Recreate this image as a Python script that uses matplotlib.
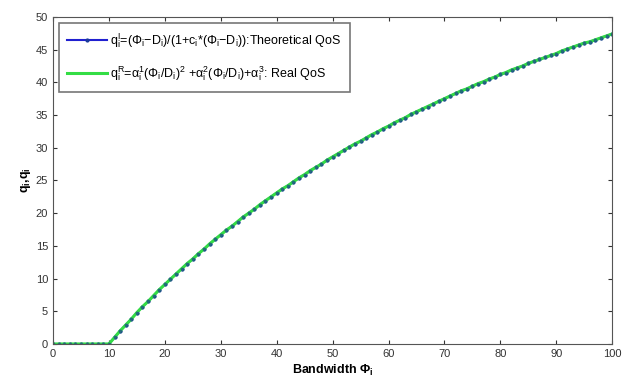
import matplotlib
matplotlib.use("Agg")
import matplotlib.pyplot as plt
import numpy as np

bandwidth = list(range(0, 101))
theoretical_qos = [0.0]*11 + [
    1.0, 2.0, 2.9, 3.8, 4.8, 5.7, 6.5, 7.4, 8.3, 9.1,
    9.9, 10.7, 11.5, 12.3, 13.0, 13.8, 14.5, 15.3, 16.0, 16.7,
    17.4, 18.0, 18.7, 19.4, 20.0, 20.6, 21.3, 21.9, 22.5, 23.1,
    23.7, 24.2, 24.8, 25.4, 25.9, 26.5, 27.0, 27.5, 28.1, 28.6,
    29.1, 29.6, 30.1, 30.6, 31.0, 31.5, 32.0, 32.4, 32.9, 33.3,
    33.8, 34.2, 34.6, 35.1, 35.5, 35.9, 36.3, 36.7, 37.1, 37.5,
    37.9, 38.3, 38.7, 39.0, 39.4, 39.8, 40.1, 40.5, 40.8, 41.2,
    41.5, 41.9, 42.2, 42.5, 42.9, 43.2, 43.5, 43.8, 44.1, 44.4,
    44.8, 45.1, 45.4, 45.7, 46.0, 46.2, 46.5, 46.8, 47.1, 47.4]
real_qos = list(theoretical_qos)

x_ticks = list(range(0, 101, 10))
y_ticks = list(range(0, 51, 5))

plt.rcParams['font.family'] = ['Liberation Sans', 'DejaVu Sans']
plt.rcParams['mathtext.fontset'] = 'custom'
plt.rcParams['mathtext.rm'] = 'Liberation Sans'
plt.rcParams['mathtext.it'] = 'Liberation Sans'
plt.rcParams['mathtext.bf'] = 'Liberation Sans:bold'

fig = plt.figure(figsize=(6.22, 3.79), dpi=100)
ax = fig.add_axes([0.0852, 0.0924, 0.899, 0.863])

lab1 = (r'$\mathregular{q_i^I}$=($\mathregular{\Phi_i}$$-$$\mathregular{D_i}$)/(1+'
        r'$\mathregular{c_i}$*($\mathregular{\Phi_i}$$-$$\mathregular{D_i}$)):Theoretical QoS')
lab2 = (r'$\mathregular{q_i^R}$=$\mathregular{\alpha_i^1}$($\mathregular{\Phi_i}$/$\mathregular{D_i}$)'
        r'$\mathregular{^2}$ +$\mathregular{\alpha_i^2}$($\mathregular{\Phi_i}$/$\mathregular{D_i}$)+'
        r'$\mathregular{\alpha_i^3}$: Real QoS')

ax.plot(bandwidth, theoretical_qos, color='#2020d0', lw=1.5, marker='.', ms=4,
        mfc='#1a3a9a', mec='#1a3a9a', label=lab1)
ax.plot(bandwidth, real_qos, color='#33dd44', lw=2.2, label=lab2)
ax.plot(bandwidth, theoretical_qos, ls='none', marker='.', ms=3.5,
        mfc='#1f5f7f', mec='#1f5f7f', alpha=0.8)

ax.set_xlim(0, 100)
ax.set_ylim(0, 50)
ax.set_xticks(x_ticks)
ax.set_yticks(y_ticks)
ax.tick_params(direction='in', top=True, right=True, labelsize=8, length=3, colors='#333333')
for s in ax.spines.values():
    s.set_color('#555555')

ax.set_xlabel(r'Bandwidth $\mathbf{\Phi_i}$', fontsize=9, fontweight='bold', labelpad=3)
ax.set_ylabel(r'$\mathbf{q_i}$,$\mathbf{q_i}$', fontsize=9, fontweight='bold', labelpad=2)

leg = ax.legend(loc='upper left', fontsize=9, frameon=True, fancybox=False,
                edgecolor='#555555', handlelength=3.2, borderaxespad=0.45,
                labelspacing=1.15, handletextpad=0.2, borderpad=0.7)
leg.get_frame().set_linewidth(1.2)

fig.savefig('out.png', dpi=100)
